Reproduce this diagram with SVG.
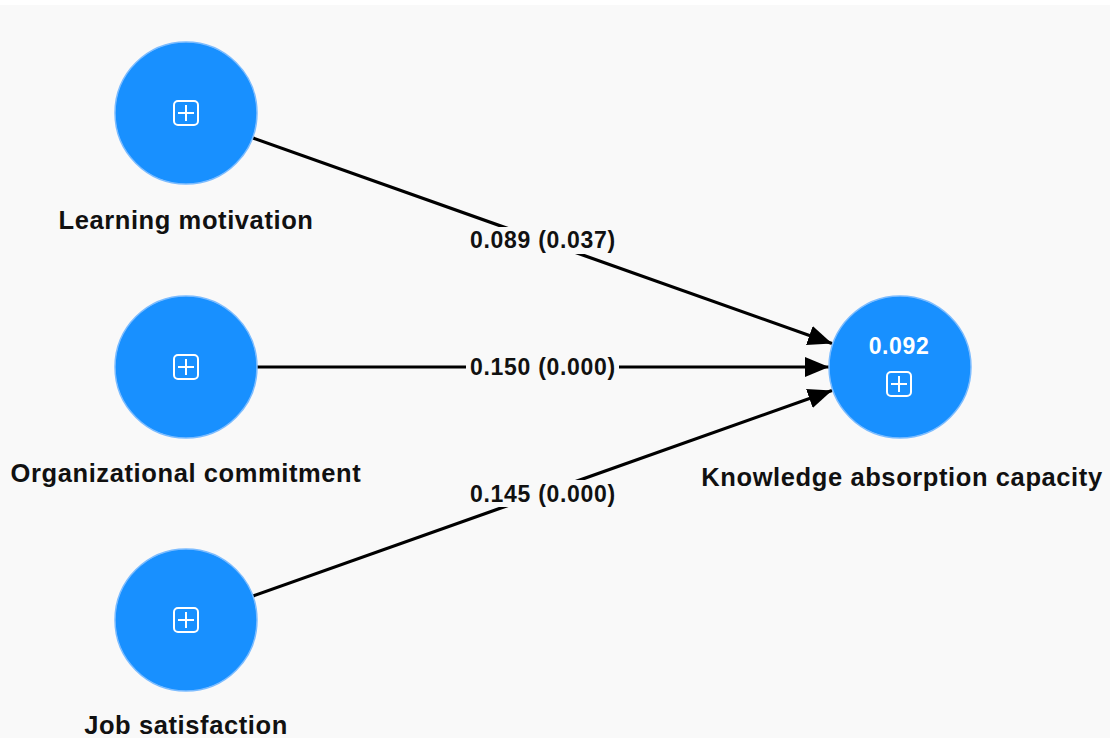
<svg xmlns="http://www.w3.org/2000/svg" width="1110" height="738" viewBox="0 0 1110 738">
<style>
.bg{fill:#f9f9f9}
.node circle{fill:#1890ff;stroke:#7cbcff;stroke-width:1.5}
.icon{fill:none;stroke:#ffffff;stroke-width:2}
.lbl{font-family:"Liberation Sans",Arial,sans-serif;font-weight:bold;font-size:25.5px;letter-spacing:0.6px;fill:#111;text-anchor:middle}
.val{font-family:"Liberation Sans",Arial,sans-serif;font-weight:bold;font-size:23px;letter-spacing:0.6px;fill:#ffffff;text-anchor:middle}
.elbl{font-family:"Liberation Sans",Arial,sans-serif;font-weight:bold;font-size:23px;letter-spacing:0.7px;fill:#111;text-anchor:middle}
.edge{stroke:#000;stroke-width:3.2;fill:none;marker-end:url(#arr)}
.lblbg{fill:#f9f9f9}
</style>
<defs>
<marker id="arr" markerUnits="userSpaceOnUse" markerWidth="26" markerHeight="22" refX="24" refY="10" orient="auto">
<path d="M0,0 L24,10 L0,20 Z" fill="#000"/>
</marker>
</defs>
<rect x="0" y="0" width="1110" height="738" fill="#ffffff"/>
<rect class="bg" x="0" y="5" width="1110" height="733"/>
<g id="connectors">
<line class="edge" x1="253" y1="138" x2="832" y2="343.5"/>
<line class="edge" x1="257" y1="367" x2="829" y2="367"/>
<line class="edge" x1="253" y1="596" x2="832" y2="390.5"/>
<g id="label-lm">
<rect class="lblbg" x="466" y="227" width="153" height="27"/>
<text class="elbl" x="543" y="248">0.089 (0.037)</text>
</g>
<g id="label-oc">
<rect class="lblbg" x="466" y="353" width="153" height="27"/>
<text class="elbl" x="543" y="375">0.150 (0.000)</text>
</g>
<g id="label-js">
<rect class="lblbg" x="466" y="480" width="153" height="27"/>
<text class="elbl" x="543" y="502">0.145 (0.000)</text>
</g>
</g>
<g id="node-lm" class="node">
<circle cx="186" cy="113" r="71"/>
<rect class="icon" x="174" y="101" width="24" height="24" rx="4"/>
<path class="icon" d="M186,105 V121 M178,113 H194"/>
<text class="lbl" x="186" y="229">Learning motivation</text>
</g>
<g id="node-oc" class="node">
<circle cx="186" cy="367" r="71"/>
<rect class="icon" x="174" y="355" width="24" height="24" rx="4"/>
<path class="icon" d="M186,359 V375 M178,367 H194"/>
<text class="lbl" x="186" y="482">Organizational commitment</text>
</g>
<g id="node-js" class="node">
<circle cx="186" cy="620" r="71"/>
<rect class="icon" x="174" y="608" width="24" height="24" rx="4"/>
<path class="icon" d="M186,612 V628 M178,620 H194"/>
<text class="lbl" x="186" y="734">Job satisfaction</text>
</g>
<g id="node-kac" class="node">
<circle cx="900" cy="367" r="71"/>
<text class="val" x="899" y="354">0.092</text>
<rect class="icon" x="887" y="372" width="24" height="24" rx="4"/>
<path class="icon" d="M899,376 V392 M891,384 H907"/>
<text class="lbl" x="902" y="486">Knowledge absorption capacity</text>
</g>
</svg>
